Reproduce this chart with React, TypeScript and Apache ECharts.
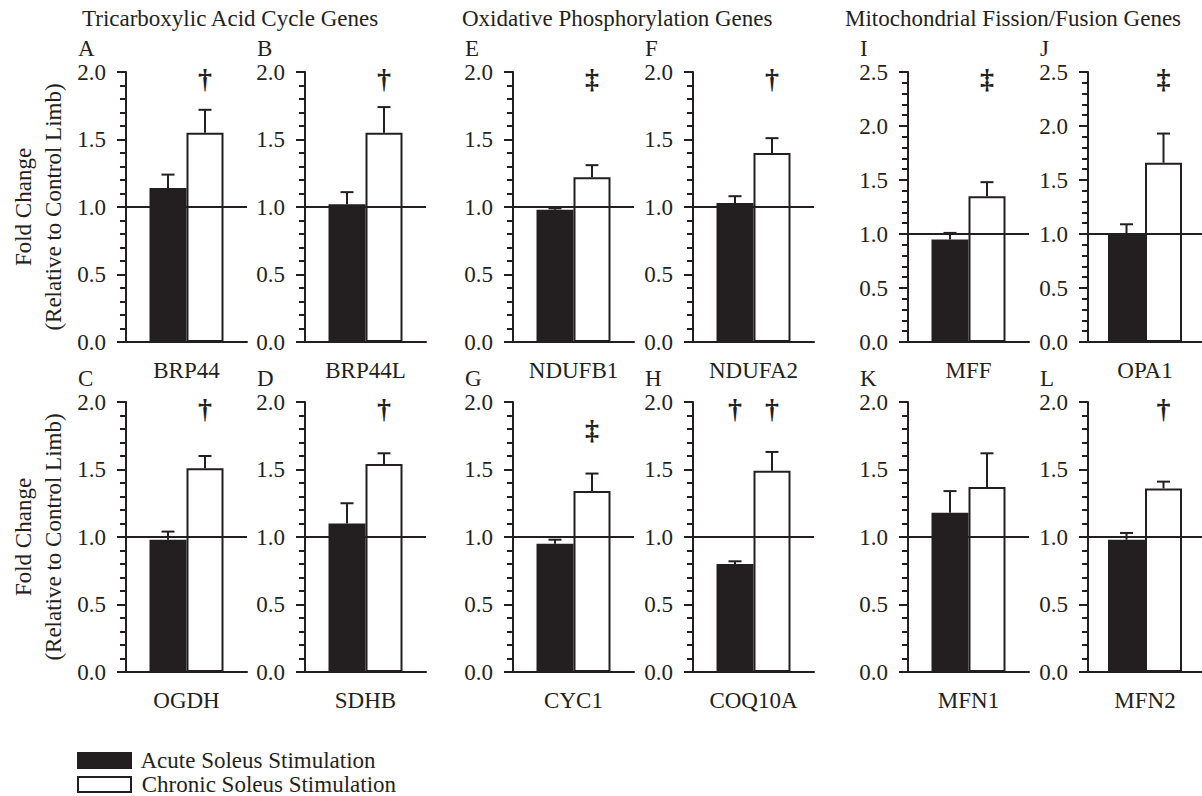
import React, { useEffect, useRef } from "react";
import * as echarts from "echarts";

// ---------- data ----------
const sectionTitles = [
  "Tricarboxylic Acid Cycle Genes",
  "Oxidative Phosphorylation Genes",
  "Mitochondrial Fission/Fusion Genes",
];
const seriesNames = ["Acute Soleus Stimulation", "Chronic Soleus Stimulation"];
// panels ordered row 1 (A,B,E,F,I,J) then row 2 (C,D,G,H,K,L)
const panelLetters = ["A", "B", "E", "F", "I", "J", "C", "D", "G", "H", "K", "L"];
const genes = ["BRP44", "BRP44L", "NDUFB1", "NDUFA2", "MFF", "OPA1", "OGDH", "SDHB", "CYC1", "COQ10A", "MFN1", "MFN2"];
const acuteMean = [1.14, 1.02, 0.98, 1.03, 0.95, 0.99, 0.98, 1.1, 0.95, 0.8, 1.18, 0.98];
const acuteErr = [0.1, 0.09, 0.01, 0.05, 0.06, 0.1, 0.06, 0.15, 0.03, 0.02, 0.16, 0.05];
const chronicMean = [1.55, 1.55, 1.22, 1.4, 1.35, 1.66, 1.51, 1.54, 1.34, 1.49, 1.37, 1.36];
const chronicErr = [0.17, 0.19, 0.09, 0.11, 0.13, 0.27, 0.09, 0.08, 0.13, 0.14, 0.25, 0.05];
const yMax = [2, 2, 2, 2, 2.5, 2.5, 2, 2, 2, 2, 2, 2];
const acuteMark = ["", "", "", "", "", "", "", "", "", "†", "", ""];
const chronicMark = ["†", "†", "‡", "†", "‡", "‡", "†", "†", "‡", "†", "", "†"];
const markLevel = [1.955, 1.955, 1.955, 1.955, 2.44, 2.44, 1.955, 1.955, 1.8, 1.955, 1.955, 1.955];
const referenceLevel = 1.0;

// ---------- layout ----------
const INK = "#231f20";
const FONT = "Liberation Serif";
const FS = 23;
const colX = [126, 305, 513, 693, 908, 1088];
const rowTop = [72, 402];
const GRID_W = 121;
const GRID_H = 270;
const BAR_W = 37;
const titleX = [82, 462, 845];

export default function App() {
  const ref = useRef<HTMLDivElement>(null);

  useEffect(() => {
    if (!ref.current) return;
    const chart = echarts.init(ref.current, null, { renderer: "svg" });

    const grids: any[] = [];
    const xAxes: any[] = [];
    const yAxes: any[] = [];
    const series: any[] = [];
    const graphics: any[] = [];

    sectionTitles.forEach((t, i) => {
      graphics.push({
        type: "text",
        x: titleX[i],
        y: 18,
        style: { text: t, fontSize: FS, fontFamily: FONT, fill: INK, align: "left", verticalAlign: "middle" },
      });
    });

    [207, 537].forEach((cy) => {
      graphics.push({
        type: "text",
        x: 38,
        y: cy,
        rotation: Math.PI / 2,
        style: {
          text: "Fold Change\n(Relative to Control Limb)",
          fontSize: FS,
          fontFamily: FONT,
          fill: INK,
          align: "center",
          verticalAlign: "middle",
          lineHeight: 30,
        },
      });
    });

    const errRender = (params: any, api: any) => {
      const cat = api.value(0);
      const x = api.coord([cat, 0])[0] + api.value(3) * (BAR_W / 2);
      const yb = api.coord([cat, api.value(1)])[1];
      const yt = api.coord([cat, api.value(1) + api.value(2)])[1];
      const st = { stroke: INK, lineWidth: 2, fill: "none" };
      return {
        type: "group",
        children: [
          { type: "line", shape: { x1: x, y1: yb, x2: x, y2: yt }, style: st },
          { type: "line", shape: { x1: x - 6.5, y1: yt, x2: x + 6.5, y2: yt }, style: st },
        ],
      };
    };

    genes.forEach((gene, i) => {
      const row = i < 6 ? 0 : 1;
      const col = i % 6;
      grids.push({ left: colX[col], top: rowTop[row], width: GRID_W, height: GRID_H });
      xAxes.push({
        type: "category",
        gridIndex: i,
        data: [gene],
        axisLine: { lineStyle: { color: INK, width: 2 } },
        axisTick: { alignWithLabel: true, length: 7, lineStyle: { color: INK, width: 2 } },
        axisLabel: { margin: 17, fontSize: FS, fontFamily: FONT, color: INK },
        splitLine: { show: false },
      });
      yAxes.push({
        type: "value",
        gridIndex: i,
        min: 0,
        max: yMax[i],
        interval: 0.5,
        axisLine: { show: true, lineStyle: { color: INK, width: 2 } },
        axisTick: { show: true, length: 9, lineStyle: { color: INK, width: 2 } },
        minorTick: { show: true, splitNumber: 5, length: 6, lineStyle: { color: INK, width: 2 } },
        splitLine: { show: false },
        minorSplitLine: { show: false },
        axisLabel: {
          margin: 20,
          fontSize: FS,
          fontFamily: FONT,
          color: INK,
          formatter: (v: number) => v.toFixed(1),
        },
      });
      graphics.push({
        type: "text",
        x: colX[col] - 48,
        y: rowTop[row] - 24,
        style: { text: panelLetters[i], fontSize: FS, fontFamily: FONT, fill: INK, align: "left", verticalAlign: "middle" },
      });

      series.push({
        name: seriesNames[0],
        type: "bar",
        xAxisIndex: i,
        yAxisIndex: i,
        data: [acuteMean[i]],
        barWidth: BAR_W,
        barGap: "0%",
        itemStyle: { color: INK, borderColor: INK, borderWidth: 2 },
      });
      series.push({
        name: seriesNames[1],
        type: "bar",
        xAxisIndex: i,
        yAxisIndex: i,
        data: [chronicMean[i]],
        barWidth: BAR_W,
        barGap: "0%",
        itemStyle: { color: "#ffffff", borderColor: INK, borderWidth: 2 },
        markLine: {
          silent: true,
          symbol: ["none", "none"],
          label: { show: false },
          lineStyle: { color: INK, width: 2, type: "solid" },
          data: [{ yAxis: referenceLevel }],
        },
      });
      series.push({
        type: "custom",
        xAxisIndex: i,
        yAxisIndex: i,
        z: 4,
        itemStyle: { color: INK },
        renderItem: errRender,
        data: [
          [0, acuteMean[i], acuteErr[i], -1],
          [0, chronicMean[i], chronicErr[i], 1],
        ],
      });
      const marks: any[] = [];
      if (acuteMark[i]) marks.push([0, markLevel[i], -1, acuteMark[i]]);
      if (chronicMark[i]) marks.push([0, markLevel[i], 1, chronicMark[i]]);
      if (marks.length) {
        series.push({
          type: "custom",
          xAxisIndex: i,
          yAxisIndex: i,
          z: 5,
          itemStyle: { color: INK },
          renderItem: (params: any, api: any) => {
            const m = marks[params.dataIndex];
            const p = api.coord([0, api.value(1)]);
            return {
              type: "text",
              x: p[0] + m[2] * (BAR_W / 2),
              y: p[1],
              style: {
                text: m[3],
                font: 'bold 28px "Liberation Serif"',
                fill: INK,
                align: "center",
                verticalAlign: "middle",
              },
            };
          },
          data: marks.map((m) => [m[0], m[1], m[2]]),
        });
      }
    });

    chart.setOption({
      animation: false,
      backgroundColor: "#ffffff",
      color: [INK],
      textStyle: { fontFamily: FONT, color: INK },
      grid: grids,
      xAxis: xAxes,
      yAxis: yAxes,
      series,
      graphic: graphics,
      legend: {
        data: seriesNames,
        orient: "vertical",
        left: 77,
        bottom: 0,
        padding: 0,
        icon: "rect",
        itemWidth: 53,
        itemHeight: 15,
        itemGap: 1,
        selectedMode: false,
        formatter: (name: string) => " " + name,
        textStyle: {
          fontSize: FS,
          fontFamily: FONT,
          color: INK,
          lineHeight: 20,
        },
      },
    });

    return () => chart.dispose();
  }, []);

  return (
    <div
      ref={ref}
      style={{ position: "fixed", left: 0, top: 0, width: 1202, height: 796, background: "#fff" }}
    />
  );
}
